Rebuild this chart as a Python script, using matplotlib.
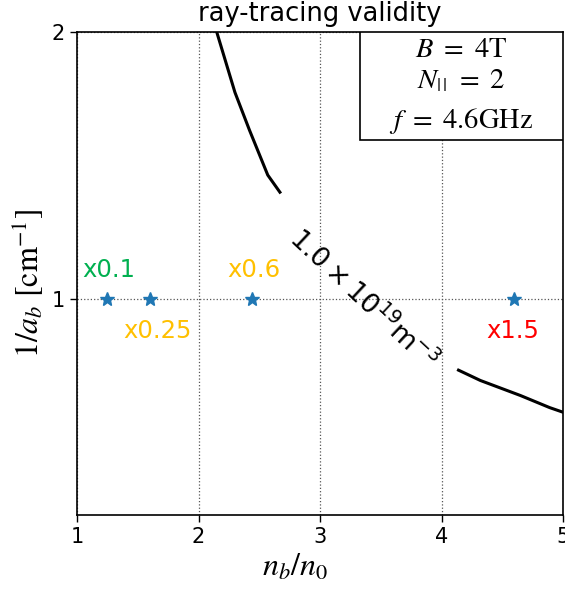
import numpy as np
import matplotlib
matplotlib.use("Agg")
import matplotlib.pyplot as plt
from matplotlib.patches import Rectangle

# contour line (1.0e19 m^-3), two segments separated by the inline label
line_x = [2.15, 2.30, 2.42, 2.57, 2.67, np.nan, 4.14, 4.32, 4.65, 4.89, 5.00]
line_y = [2.00, 1.71, 1.55, 1.38, 1.32, np.nan, 0.832, 0.810, 0.779, 0.755, 0.746]

star_x = [1.25, 1.60, 2.44, 4.60]
star_y = [1.0, 1.0, 1.0, 1.0]
star_labels = ["x0.1", "x0.25", "x0.6", "x1.5"]
star_colors = ["#00b050", "#ffc000", "#ffc000", "#ff0000"]
label_x = [1.04, 1.38, 2.24, 4.37]
label_y = [1.078, 0.92, 1.078, 0.92]

xticks = [1, 2, 3, 4, 5]
yticks = [1, 2]

box_lines = [r"$B\ =\ 4\mathrm{T}$", r"$N_{|\,|}\ =\ 2$", r"$f\ =\ 4.6\mathrm{GHz}$"]

fig = plt.figure(figsize=(5.65, 5.89), dpi=100)
ax = fig.add_axes([77/565, (589-515)/589, 486/565, 483/589])
ax.set_yscale("log")
ax.set_xlim(1, 5)
ax.set_ylim(1/1.75, 2)

ax.plot(line_x, line_y, color="black", lw=2.2)
ax.plot(star_x, star_y, ls="none", marker="*", ms=10, color="#1f77b4")
for lx, ly, s, c in zip(label_x, label_y, star_labels, star_colors):
    ax.text(lx, ly, s, color=c, fontsize=17.5, ha="left", va="center")

ax.text(3.35, 1.0, r"$1.0\times10^{19}\mathrm{m}^{-3}$", rotation=-43,
        fontsize=19.5, ha="center", va="center", rotation_mode="anchor")

ax.set_xticks(xticks)
ax.set_xticklabels([str(t) for t in xticks])
ax.set_yticks(yticks)
ax.set_yticklabels([str(t) for t in yticks])
ax.yaxis.set_minor_locator(matplotlib.ticker.NullLocator())
ax.tick_params(labelsize=15, length=5, width=1)
for sp in ax.spines.values():
    sp.set_linewidth(1.2)
ax.grid(True, which="major", ls=":", color="#555555", lw=0.9)

ax.set_xlabel(r"$n_b/n_0$", fontsize=23, math_fontfamily="stix")
ax.set_ylabel(r"$1/a_b\ [\mathrm{cm}^{-1}]$", fontsize=23, math_fontfamily="stix")
ax.xaxis.set_label_coords(0.449, -0.076, transform=ax.transAxes)
ax.yaxis.set_label_coords(-0.064, 0.48, transform=ax.transAxes)
ax.set_title("ray-tracing validity", fontsize=18.5, pad=8)

# parameter box in the upper right corner
ax.add_patch(Rectangle((0.582, 0.776), 0.418, 0.224, transform=ax.transAxes,
                       facecolor="white", edgecolor="black", lw=1.2, zorder=5))
for s, yb in zip(box_lines, [0.948, 0.884, 0.801]):
    ax.text(0.791, yb, s, transform=ax.transAxes, ha="center", va="baseline",
            fontsize=20.5, math_fontfamily="stix", zorder=6)

fig.savefig("out.png", dpi=100)
